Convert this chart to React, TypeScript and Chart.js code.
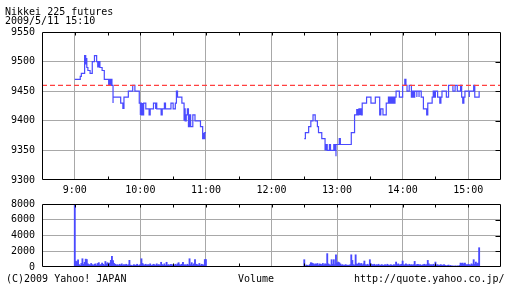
import React, { useEffect, useRef } from 'react';
import { Chart, registerables } from 'chart.js';

Chart.register(...registerables);

// ---- data (minutes after 9:00) ----
const titleLine1 = 'Nikkei 225 futures';
const titleLine2 = '2009/5/11 15:10';
const footerLeft = '(C)2009 Yahoo! JAPAN';
const footerCenter = 'Volume';
const footerRight = 'http://quote.yahoo.co.jp/';

const prevClose = 9460;

const amMinutes = [0, 5, 6, 9, 9, 10, 10, 11, 12, 14, 16, 18, 20, 21, 21, 22, 22, 23, 25, 27, 31, 31, 32, 33, 34, 35, 35, 42, 44, 44, 45, 45, 49, 53, 55, 59, 60, 60, 61, 62, 62, 63, 65, 68, 69, 72, 74, 74, 75, 79, 80, 82, 83, 88, 90, 92, 93, 94, 98, 100, 100, 101, 102, 103, 104, 105, 106, 108, 110, 115, 117, 118, 118, 119, 120];
const amPrices = [9470, 9475, 9480, 9490, 9510, 9495, 9505, 9490, 9485, 9480, 9500, 9510, 9500, 9490, 9500, 9490, 9500, 9490, 9485, 9470, 9460, 9470, 9460, 9470, 9460, 9430, 9440, 9430, 9420, 9430, 9420, 9440, 9450, 9460, 9450, 9430, 9410, 9430, 9410, 9430, 9410, 9430, 9420, 9410, 9420, 9430, 9420, 9430, 9420, 9410, 9420, 9430, 9420, 9430, 9420, 9430, 9450, 9440, 9430, 9400, 9420, 9400, 9410, 9420, 9390, 9410, 9390, 9410, 9400, 9390, 9370, 9380, 9370, 9380, 9380];

const pmMinutes = [210, 211, 214, 216, 218, 220, 222, 223, 226, 229, 229, 230, 230, 231, 233, 234, 237, 238, 239, 239, 242, 243, 253, 256, 258, 258, 259, 259, 260, 261, 261, 262, 263, 267, 271, 275, 279, 280, 282, 285, 287, 288, 289, 290, 291, 292, 293, 294, 297, 300, 302, 303, 304, 306, 308, 308, 309, 310, 311, 313, 313, 315, 315, 317, 319, 322, 323, 327, 328, 329, 330, 332, 334, 335, 336, 340, 342, 346, 348, 350, 353, 354, 355, 356, 357, 361, 361, 365, 366, 370];
const pmPrices = [9370, 9380, 9390, 9400, 9410, 9400, 9390, 9380, 9370, 9350, 9360, 9350, 9360, 9350, 9360, 9350, 9360, 9350, 9340, 9360, 9370, 9360, 9380, 9410, 9420, 9410, 9420, 9410, 9420, 9410, 9420, 9410, 9430, 9440, 9430, 9440, 9410, 9420, 9410, 9430, 9440, 9430, 9440, 9430, 9440, 9430, 9440, 9450, 9440, 9460, 9470, 9460, 9450, 9460, 9450, 9440, 9450, 9440, 9450, 9440, 9450, 9440, 9450, 9440, 9420, 9410, 9430, 9440, 9450, 9440, 9450, 9440, 9430, 9440, 9450, 9440, 9460, 9450, 9460, 9450, 9460, 9440, 9430, 9440, 9450, 9440, 9450, 9460, 9440, 9450];

// volume per minute, 9:00..11:00 and 12:30..15:10
const amVolumeStart = 0;
const amVolumes = [
  12000, 750, 650, 900, 300, 200, 450, 1050, 350, 600,
  1000, 950, 400, 300, 250, 450, 300, 200, 350, 400,
  200, 450, 550, 250, 300, 500, 350, 250, 700, 400,
  550, 300, 500, 850, 1350, 800, 450, 350, 250, 300,
  200, 350, 250, 400, 200, 300, 250, 350, 200, 300,
  850, 250, 200, 150, 300, 250, 200, 350, 150, 250,
  300, 1050, 450, 300, 250, 350, 200, 300, 250, 400,
  200, 250, 350, 300, 200, 400, 250, 300, 200, 600,
  300, 250, 400, 200, 600, 250, 300, 200, 350, 250,
  300, 200, 350, 250, 400, 550, 300, 250, 350, 600,
  250, 300, 200, 350, 250, 1050, 300, 550, 250, 400,
  950, 350, 300, 250, 450, 200, 350, 300, 250, 950,
  950,
];
const pmVolumeStart = 210;
const pmVolumes = [
  930, 150, 250, 200, 150, 300, 550, 500, 450, 300,
  400, 350, 450, 250, 400, 350, 300, 450, 250, 400,
  350, 1700, 400, 300, 250, 930, 350, 930, 300, 1550,
  500, 630, 550, 400, 250, 300, 200, 250, 300, 200,
  250, 200, 300, 1550, 840, 300, 250, 1550, 400, 350,
  500, 300, 450, 250, 400, 760, 300, 250, 350, 200,
  930, 400, 300, 250, 350, 200, 300, 250, 350, 200,
  250, 300, 200, 250, 300, 200, 350, 250, 200, 300,
  250, 200, 300, 250, 630, 300, 400, 250, 300, 350,
  760, 300, 250, 400, 300, 200, 350, 250, 300, 250,
  300, 710, 250, 300, 350, 250, 300, 200, 250, 300,
  350, 250, 300, 840, 400, 250, 300, 200, 350, 250,
  630, 250, 300, 200, 250, 300, 200, 250, 300, 200,
  150, 200, 250, 150, 200, 100, 150, 100, 150, 100,
  150, 100, 200, 500, 450, 500, 350, 500, 300, 250,
  350, 300, 250, 400, 300, 930, 350, 630, 400, 500,
  2450,
];

const xMin = -30; // 8:30
const xMax = 390; // 15:30
const priceMin = 9300;
const priceMax = 9550;
const volMax = 8000;

// ---- style ----
const FONT_FAMILY = '"DejaVu Sans Mono", monospace';
const BLUE = '#4a4aff';
const GRID = '#a8a8a8';
const RED = '#ff4040';

const hourLabel = (v: number) => (v % 60 === 0 && v >= 0 && v <= 360 ? `${9 + v / 60}:00` : '');

const framePlugin = {
  id: 'frame',
  afterDraw(chart: any) {
    const { ctx, chartArea, scales } = chart;
    const x = scales.x;
    const y = scales.y;
    const L = Math.round(chartArea.left) + 0.5;
    const R = Math.round(chartArea.right) - 0.5;
    const T = Math.round(chartArea.top) + 0.5;
    const B = Math.round(chartArea.bottom) - 0.5;
    ctx.save();
    ctx.strokeStyle = '#000';
    ctx.lineWidth = 1;
    ctx.beginPath();
    ctx.rect(L, T, R - L, B - T);
    x.ticks.forEach((t: any) => {
      if (t.value <= x.min || t.value >= x.max) return;
      const px = Math.round(x.getPixelForValue(t.value)) + 0.5;
      ctx.moveTo(px, T);
      ctx.lineTo(px, T + 3);
      if (t.value % 60 !== 0) {
        ctx.moveTo(px, B);
        ctx.lineTo(px, B - 3);
      }
    });
    y.ticks.forEach((t: any) => {
      if (t.value <= y.min || t.value >= y.max) return;
      const py = Math.round(y.getPixelForValue(t.value)) + 0.5;
      ctx.moveTo(R, py);
      ctx.lineTo(R - 5, py);
    });
    ctx.stroke();
    ctx.restore();
  },
};

const xGridColor = (c: any) => (c.tick && c.tick.value % 60 === 0 && c.tick.value > xMin && c.tick.value < xMax ? GRID : 'rgba(0,0,0,0)');

export default function App() {
  const priceRef = useRef<HTMLCanvasElement>(null);
  const volRef = useRef<HTMLCanvasElement>(null);

  useEffect(() => {
    const font = { family: FONT_FAMILY, size: 10 };
    const amData = amMinutes.map((m, i) => ({ x: m, y: amPrices[i] }));
    const pmData = pmMinutes.map((m, i) => ({ x: m, y: pmPrices[i] }));
    const lineDs = (data: any[]) => ({
      type: 'line' as const,
      data,
      borderColor: BLUE,
      borderWidth: 1.2,
      pointRadius: 0,
      stepped: 'before' as const,
      fill: false,
    });

    const price = new Chart(priceRef.current!, {
      type: 'line',
      data: {
        datasets: [
          {
            data: [{ x: xMin, y: prevClose }, { x: xMax, y: prevClose }],
            borderColor: RED,
            borderWidth: 1.2,
            borderDash: [5, 3],
            pointRadius: 0,
            fill: false,
          },
          lineDs(amData),
          lineDs(pmData),
        ],
      },
      options: {
        animation: false,
        responsive: false,
        devicePixelRatio: 1,
        events: [],
        layout: { padding: { top: 32, right: 11, left: 0, bottom: 0 } },
        plugins: { legend: { display: false }, tooltip: { enabled: false } },
        scales: {
          x: {
            type: 'linear',
            min: xMin,
            max: xMax,
            ticks: { stepSize: 30, autoSkip: false, maxRotation: 0, color: '#000', font, padding: 4, callback: (v: any) => hourLabel(Number(v)) },
            grid: { color: xGridColor, drawTicks: false, lineWidth: 1 },
            border: { display: false },
            afterFit: (s: any) => { s.height = 20; },
          },
          y: {
            min: priceMin,
            max: priceMax,
            ticks: { stepSize: 50, color: '#000', font, padding: 7, callback: (v: any) => String(v) },
            grid: { color: (c: any) => (c.tick && c.tick.value > priceMin && c.tick.value < priceMax ? GRID : 'rgba(0,0,0,0)'), drawTicks: false },
            border: { display: false },
            afterFit: (s: any) => { s.width = 42; },
          },
        },
      } as any,
      plugins: [framePlugin],
    });

    const volData = [
      ...amVolumes.map((v, i) => ({ x: amVolumeStart + i, y: v })),
      ...pmVolumes.map((v, i) => ({ x: pmVolumeStart + i, y: v })),
    ];

    const vol = new Chart(volRef.current!, {
      type: 'bar',
      data: {
        datasets: [
          {
            data: volData,
            backgroundColor: BLUE,
            borderWidth: 0,
            barThickness: 1.2,
          },
        ],
      },
      options: {
        animation: false,
        responsive: false,
        devicePixelRatio: 1,
        events: [],
        layout: { padding: { top: 14, right: 11, left: 0, bottom: 0 } },
        plugins: { legend: { display: false }, tooltip: { enabled: false } },
        scales: {
          x: {
            type: 'linear',
            min: xMin,
            max: xMax,
            offset: false,
            ticks: { stepSize: 30, autoSkip: false, display: false },
            grid: { color: xGridColor, drawTicks: false, offset: false },
            border: { display: false },
            afterFit: (s: any) => { s.height = 21; },
          },
          y: {
            min: 0,
            max: volMax,
            ticks: { stepSize: 2000, color: '#000', font, padding: 7, callback: (v: any) => String(v) },
            grid: { color: (c: any) => (c.tick && c.tick.value > 0 && c.tick.value < volMax ? GRID : 'rgba(0,0,0,0)'), drawTicks: false },
            border: { display: false },
            afterFit: (s: any) => { s.width = 42; },
          },
        },
      } as any,
      plugins: [framePlugin],
    });

    return () => {
      price.destroy();
      vol.destroy();
    };
  }, []);

  const textStyle: React.CSSProperties = {
    position: 'absolute',
    fontFamily: FONT_FAMILY,
    fontSize: 10,
    lineHeight: '10px',
    whiteSpace: 'pre',
    color: '#000',
  };

  return (
    <div style={{ position: 'fixed', left: 0, top: 0, width: 512, height: 288, background: '#fff', overflow: 'hidden' }}>
      <canvas ref={priceRef} width={512} height={200} style={{ position: 'absolute', left: 0, top: 0, display: 'block' }} />
      <canvas ref={volRef} width={512} height={98} style={{ position: 'absolute', left: 0, top: 190, display: 'block' }} />
      <div style={{ ...textStyle, left: 5, top: 7 }}>{titleLine1}</div>
      <div style={{ ...textStyle, left: 5, top: 16 }}>{titleLine2}</div>
      <div style={{ ...textStyle, left: 6, top: 274 }}>{footerLeft}</div>
      <div style={{ ...textStyle, left: 238, top: 274 }}>{footerCenter}</div>
      <div style={{ ...textStyle, left: 354, top: 274 }}>{footerRight}</div>
    </div>
  );
}
